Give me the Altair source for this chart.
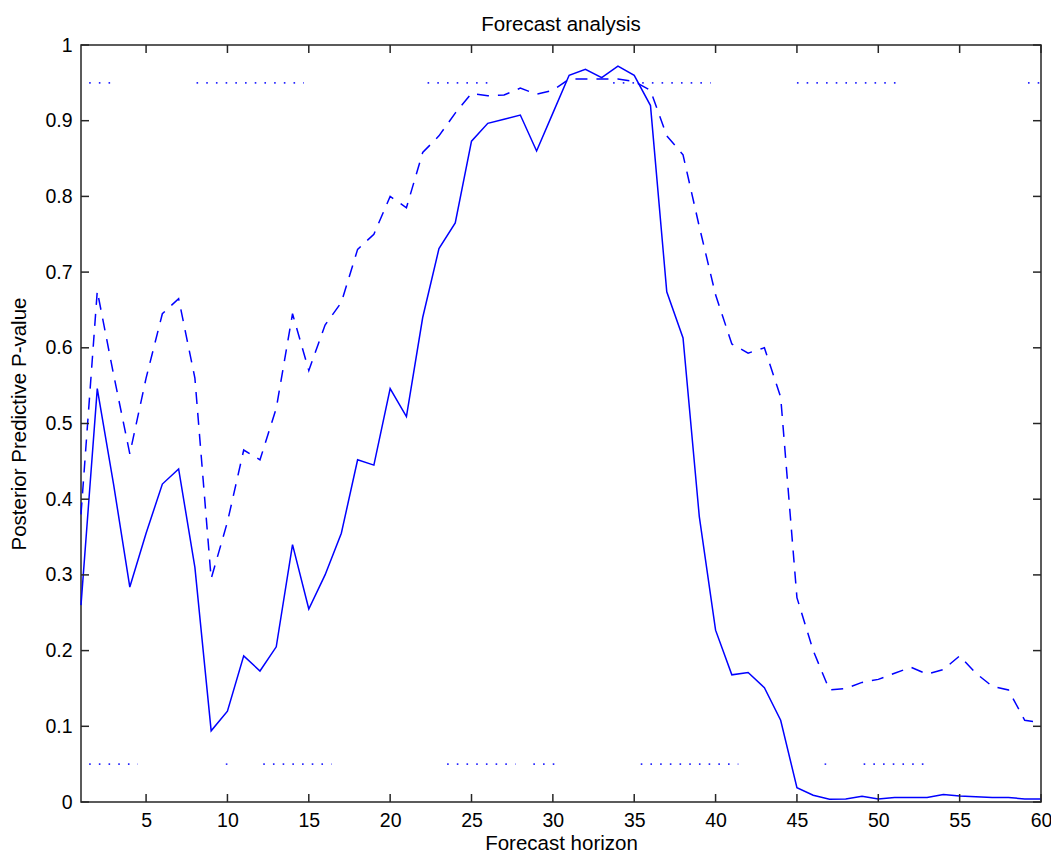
import altair as alt
import pandas as pd

# ---- data ----
horizon = list(range(1, 61))
p_solid = [0.26, 0.546, 0.42, 0.284, 0.355, 0.42, 0.44, 0.31, 0.094, 0.12,
           0.193, 0.173, 0.205, 0.34, 0.255, 0.30, 0.355, 0.452, 0.445, 0.546,
           0.509, 0.64, 0.731, 0.765, 0.873, 0.8965, 0.902, 0.9075, 0.86, 0.91,
           0.96, 0.968, 0.957, 0.972, 0.96, 0.92, 0.674, 0.613, 0.377, 0.227,
           0.168, 0.171, 0.151, 0.108, 0.019, 0.009, 0.0036, 0.004, 0.0075, 0.004,
           0.006, 0.006, 0.006, 0.010, 0.008, 0.007, 0.006, 0.006, 0.004, 0.004]
p_dashed = [0.38, 0.675, 0.565, 0.46, 0.56, 0.645, 0.665, 0.56, 0.295, 0.37,
            0.465, 0.452, 0.52, 0.645, 0.57, 0.63, 0.66, 0.73, 0.75, 0.80,
            0.785, 0.858, 0.88, 0.91, 0.936, 0.933, 0.934, 0.943, 0.935, 0.94,
            0.955, 0.955, 0.955, 0.955, 0.952, 0.94, 0.88, 0.855, 0.76, 0.67,
            0.605, 0.593, 0.60, 0.535, 0.27, 0.2, 0.148, 0.15, 0.158, 0.162,
            0.17, 0.178, 0.169, 0.175, 0.193, 0.17, 0.153, 0.148, 0.108, 0.105]

# dotted significance markers (start, end) at 0.95 and 0.05
upper_start = [1.5, 8.1, 22.3, 33.7, 45.0, 59.2]
upper_end = [2.8, 14.7, 26.0, 39.7, 51.5, 60.0]
lower_start = [1.5, 9.9, 12.2, 23.5, 28.8, 35.4, 46.7, 49.1]
lower_end = [4.5, 10.0, 16.4, 27.7, 30.1, 41.4, 46.8, 53.2]
upper_level = 0.95
lower_level = 0.05

x_ticks = [5, 10, 15, 20, 25, 30, 35, 40, 45, 50, 55, 60]
y_ticks = [0, 0.1, 0.2, 0.3, 0.4, 0.5, 0.6, 0.7, 0.8, 0.9, 1.0]

# ---- tables ----
df = pd.DataFrame({"h": horizon, "solid": p_solid, "dashed": p_dashed})
seg = pd.DataFrame({
    "x1": upper_start + lower_start,
    "x2": upper_end + lower_end,
    "y": [upper_level] * len(upper_start) + [lower_level] * len(lower_start),
})
xt = pd.DataFrame({"x": x_ticks})
yt = pd.DataFrame({"y": y_ticks})

W, H = 960, 757
FONT = "Liberation Sans"
BLUE = "#0000ff"
AX = "#262626"
LBL = 19.5
TTL = 20.5

xscale = alt.Scale(domain=[1, 60], nice=False, zero=False)
yscale = alt.Scale(domain=[0, 1], nice=False)

xaxis = alt.Axis(values=x_ticks, title="Forecast horizon", grid=False, ticks=False,
                 tickSize=0, domain=False, labelPadding=9, labelFontSize=LBL,
                 labelColor="#000", titleFontSize=TTL, titleFontWeight="normal",
                 titleColor="#000", titlePadding=4, labelFont=FONT, titleFont=FONT,
                 labelFlush=False)
yaxis = alt.Axis(values=y_ticks, title="Posterior Predictive P-value", grid=False,
                 ticks=False, tickSize=0, domain=False, labelPadding=9,
                 labelFontSize=LBL, labelColor="#000", titleFontSize=TTL,
                 titleFontWeight="normal", titleColor="#000", titlePadding=15,
                 labelFont=FONT, titleFont=FONT, labelFlush=False,
                 labelExpr="datum.value == 0 ? '0' : datum.value == 1 ? '1' : format(datum.value, '.1f')")

X = alt.X("h:Q", scale=xscale, axis=xaxis)
Y = lambda f: alt.Y(f"{f}:Q", scale=yscale, axis=yaxis)

solid = alt.Chart(df).mark_line(color=BLUE, strokeWidth=1.5).encode(x=X, y=Y("solid"))
dashed = alt.Chart(df).mark_line(color=BLUE, strokeWidth=1.5, strokeDash=[12, 9]).encode(
    x=X, y=Y("dashed"))
dots = alt.Chart(seg).mark_rule(color=BLUE, strokeWidth=1.6, strokeDash=[1.6, 8.1],
                                strokeCap="butt", opacity=0.85).encode(
    x=alt.X("x1:Q", scale=xscale, axis=xaxis), x2="x2:Q",
    y=alt.Y("y:Q", scale=yscale, axis=yaxis))

tb = alt.Chart(xt).mark_rule(color=AX, strokeWidth=1.5).encode(
    x=alt.X("x:Q", scale=xscale, axis=xaxis), y=alt.value(H), y2=alt.value(H - 8))
tt = alt.Chart(xt).mark_rule(color=AX, strokeWidth=1.5).encode(
    x=alt.X("x:Q", scale=xscale, axis=xaxis), y=alt.value(0), y2=alt.value(8))
tl = alt.Chart(yt).mark_rule(color=AX, strokeWidth=1.5).encode(
    y=alt.Y("y:Q", scale=yscale, axis=yaxis), x=alt.value(0), x2=alt.value(8))
tr = alt.Chart(yt).mark_rule(color=AX, strokeWidth=1.5).encode(
    y=alt.Y("y:Q", scale=yscale, axis=yaxis), x=alt.value(W), x2=alt.value(W - 8))

chart = alt.layer(dots, dashed, solid, tb, tt, tl, tr).properties(
    width=W, height=H,
    title=alt.TitleParams("Forecast analysis", fontSize=TTL, font=FONT, fontWeight="normal",
                          color="#000", anchor="middle", baseline="alphabetic", offset=16,
                          dy=32),
    autosize=alt.AutoSizeParams(type="none"),
    padding={"left": 81, "top": 45, "right": 10, "bottom": 53},
    background="white",
).configure_view(stroke=AX, strokeWidth=1.5)

chart.save("out.html", embed_options={"renderer": "svg", "actions": False})
